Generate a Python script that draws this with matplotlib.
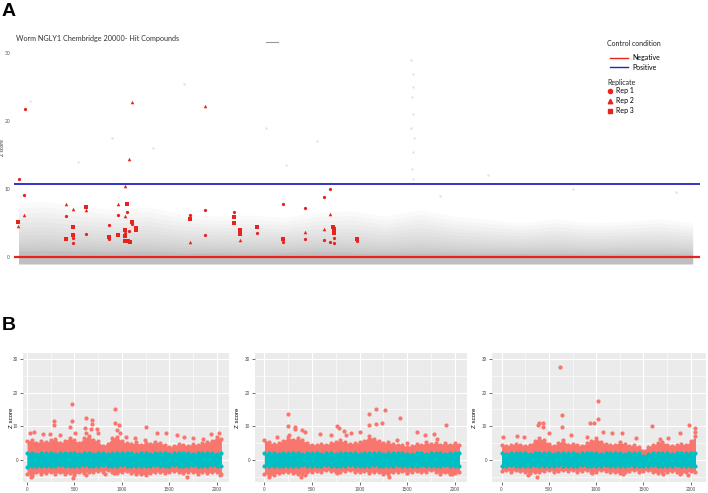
import matplotlib
matplotlib.use('Agg')
import matplotlib.pyplot as plt
from matplotlib.lines import Line2D
import numpy as np

W, H = 708, 493

# ---------------- panel A data (compound index, Z score) ----------------
rep1_x = [264, 440, 410, 29, 29, 29, 1641, 1846, 1846, 2227, 2901, 2901, 3164, 3428, 3370,
          3487, 3575, 5274, 5714, 5714, 6563, 7237, 7999, 7999, 8644, 8644, 9200, 9200,
          9376, 9376, 9493, 9493, 10170]
rep1_y = [11.5, 21.8, 9.1, 4.4, 3.4, 2.4, 6.0, 2.8, 2.1, 3.4, 4.7, 2.6, 6.2, 6.6, 3.5,
          3.8, 4.9, 6.2, 6.9, 3.2, 6.6, 3.5, 7.8, 2.2, 7.2, 2.6, 8.8, 2.5,
          10.0, 2.2, 2.8, 2.1, 2.4]
rep2_x = [410, 234, 1641, 1846, 2227, 3164, 3370, 3370, 3575, 3487, 5274, 5714, 6739,
          8644, 9200, 9376]
rep2_y = [6.2, 4.6, 7.8, 7.1, 6.9, 7.8, 6.0, 10.4, 22.8, 14.4, 2.2, 22.2, 2.5,
          3.7, 4.1, 6.3]
rep3_x = [234, 1641, 1846, 1846, 2227, 2901, 3164, 3428, 3370, 3370, 3370, 3457, 3516,
          3575, 3692, 3692, 5274, 6563, 6563, 6739, 6739, 7237, 7999, 9464, 9493, 9493, 10170]
rep3_y = [5.1, 2.6, 4.4, 3.2, 7.4, 2.9, 3.2, 7.8, 4.0, 3.1, 2.4, 2.4, 2.2,
          5.1, 4.3, 4.0, 5.6, 5.9, 5.0, 4.0, 3.4, 4.4, 2.6, 4.4, 4.1, 3.5, 2.6]

neg_ctrl = 0.0
pos_ctrl = 10.8

# envelope of the grey cloud of all screened compounds
cloud_x = [250, 1000, 2000, 3000, 4000, 5000, 6000, 7000, 8000, 9000, 10000,
           11000, 12000, 13000, 14000, 15000, 16000, 17000, 18000, 19000, 20000]
cloud_outer = [8.0, 8.2, 7.5, 7.0, 7.4, 6.4, 6.0, 6.2, 5.8, 6.6, 6.8,
               6.0, 7.0, 6.0, 5.5, 5.0, 5.6, 5.0, 5.2, 5.6, 5.0]
cloud_base = [0.8, 0.9, 0.8, 0.7, 0.8, 0.6, 0.6, 0.5, 0.6, 0.7, 0.6,
              0.5, 0.6, 0.5, 0.4, 0.5, 0.5, 0.4, 0.5, 0.5, 0.4]
cloud_low = -1.0
faint_x = [11750, 11800, 11820, 11780, 11800, 11760, 11830, 11800, 11780, 11800,
           3000, 5100, 7500, 9000, 14000, 2000, 600, 8100, 16500, 19500, 12600, 4200]
faint_y = [29.0, 27.0, 25.0, 23.5, 21.0, 19.0, 17.5, 15.5, 13.0, 11.5,
           17.5, 25.5, 19.0, 17.0, 12.0, 14.0, 23.0, 13.5, 10.0, 9.5, 9.0, 16.0]

# ---------------- panel B data (three plates) ----------------
env_x = [0, 50, 100, 150, 200, 250, 300, 350, 400, 450, 500, 550, 600, 650, 700, 750,
         800, 850, 900, 950, 1000, 1050, 1100, 1150, 1200, 1250, 1300, 1350, 1400, 1450,
         1500, 1550, 1600, 1650, 1700, 1750, 1800, 1850, 1900, 1950, 2000, 2050]

red1_hi = [5.5, 6.0, 5.0, 5.6, 5.2, 5.8, 6.2, 5.0, 5.6, 6.5, 5.8, 5.0, 6.5, 7.0, 6.0, 5.5,
           4.2, 4.8, 6.5, 6.8, 5.5, 5.0, 4.8, 5.2, 4.6, 5.0, 4.8, 5.4, 5.0, 4.6,
           3.8, 4.2, 4.8, 4.4, 4.2, 4.8, 4.4, 5.0, 5.2, 5.6, 6.8, 6.2]
red1_lo = [-4.2, -4.8, -3.6, -4.0, -3.8, -3.5, -4.0, -3.6, -4.2, -3.8, -4.4, -3.5, -3.8,
           -3.4, -3.6, -3.2, -3.4, -3.0, -3.6, -3.8, -3.5, -3.2, -3.8, -4.0, -4.2, -4.4,
           -3.8, -3.6, -3.4, -3.8, -3.6, -3.2, -3.6, -3.8, -3.4, -3.6, -4.0, -3.4, -3.8,
           -3.6, -3.4, -4.2]
red2_hi = [6.0, 5.2, 4.8, 5.0, 5.6, 6.8, 6.0, 6.4, 5.8, 5.0, 4.6, 4.4, 4.8, 4.6, 5.0, 5.4,
           5.8, 5.2, 4.8, 5.0, 5.2, 5.6, 7.0, 6.2, 5.6, 5.0, 5.2, 4.8, 4.6, 4.4,
           4.0, 4.2, 4.8, 4.4, 5.2, 4.8, 5.0, 4.6, 5.0, 4.6, 5.0, 4.6]
red2_lo = [-4.0, -4.6, -4.4, -3.8, -3.6, -3.4, -3.8, -4.2, -4.0, -3.6, -3.4, -3.2, -3.4,
           -3.0, -3.2, -3.6, -3.4, -3.2, -3.0, -3.4, -3.6, -3.2, -3.8, -3.4, -3.6, -4.0,
           -4.2, -3.6, -3.4, -3.2, -3.8, -3.4, -3.2, -3.6, -3.4, -3.0, -3.4, -4.0, -3.6,
           -4.2, -3.8, -3.4]
red3_hi = [4.6, 4.2, 4.4, 4.8, 4.6, 4.2, 4.6, 5.6, 6.4, 5.8, 4.8, 4.2, 5.0, 5.8, 4.6, 4.8,
           4.4, 4.2, 5.0, 5.6, 6.4, 5.4, 4.8, 4.4, 4.6, 5.2, 4.8, 4.2, 4.4, 4.0,
           2.8, 4.0, 4.4, 5.0, 5.4, 4.6, 4.2, 4.4, 4.8, 4.4, 5.6, 7.0]
red3_lo = [-3.2, -3.0, -3.4, -3.0, -3.2, -3.6, -3.8, -3.4, -3.6, -3.2, -3.0, -3.4, -3.2,
           -3.0, -3.2, -3.0, -3.4, -3.2, -3.0, -3.6, -3.4, -3.0, -3.2, -3.4, -3.6, -3.8,
           -3.4, -3.2, -3.0, -3.4, -3.2, -3.0, -3.6, -3.8, -3.4, -3.6, -3.2, -3.4, -3.8,
           -3.6, -3.2, -3.4]
cyan1_hi = [2.1, 2.0, 1.9, 2.0, 2.1, 2.0, 1.9, 2.0, 2.1, 2.0, 2.0, 1.9, 2.1, 2.0, 1.9, 2.0,
            2.0, 1.9, 2.1, 2.0, 2.0, 2.1, 2.0, 1.9, 2.0, 2.0, 1.9, 2.0, 2.1, 2.0,
            1.9, 2.0, 2.0, 2.1, 2.0, 1.9, 2.0, 2.0, 2.1, 2.0, 1.9, 2.0]
cyan1_lo = [-2.0, -1.8, -1.7, -1.8, -1.7, -1.8, -1.7, -1.6, -1.8, -1.7, -1.8, -1.7, -1.6,
            -1.7, -1.8, -1.7, -1.6, -1.7, -1.8, -1.7, -1.6, -1.7, -1.8, -1.7, -1.7, -1.8,
            -1.7, -1.6, -1.7, -1.8, -1.7, -1.6, -1.7, -1.8, -1.7, -1.6, -1.7, -1.8, -1.7,
            -1.6, -1.7, -1.9]
cyan2_hi = [2.0, 2.1, 2.0, 1.9, 2.0, 2.1, 2.0, 2.0, 1.9, 2.0, 2.2, 2.0, 1.9, 2.0, 2.0, 1.9,
            2.0, 2.1, 2.0, 2.0, 1.9, 2.0, 2.1, 2.0, 2.0, 1.9, 2.0, 2.0, 2.1, 2.0,
            1.9, 1.8, 2.0, 2.0, 1.9, 2.0, 2.1, 2.0, 1.9, 2.0, 2.0, 2.0]
cyan2_lo = [-1.9, -1.8, -1.7, -1.8, -1.7, -1.7, -1.8, -1.7, -1.6, -1.7, -1.7, -1.8, -1.7,
            -1.6, -1.7, -1.7, -1.8, -1.7, -1.6, -1.7, -1.7, -1.8, -1.7, -1.6, -1.7, -1.7,
            -1.8, -1.7, -1.6, -1.7, -1.7, -1.8, -1.7, -1.6, -1.7, -1.7, -1.8, -1.7, -1.6,
            -1.7, -1.7, -1.8]
cyan3_hi = [2.0, 1.9, 2.0, 2.0, 2.1, 2.0, 1.9, 2.0, 2.0, 2.1, 2.0, 1.9, 2.0, 2.0, 2.1, 2.0,
            1.9, 2.0, 2.0, 2.1, 2.0, 1.9, 2.0, 2.0, 2.1, 2.0, 1.9, 2.0, 2.1, 2.0,
            1.2, 1.9, 2.0, 2.0, 2.1, 2.0, 1.9, 2.0, 2.0, 2.1, 2.0, 2.0]
cyan3_lo = [-1.8, -1.7, -1.6, -1.7, -1.7, -1.8, -1.7, -1.6, -1.7, -1.7, -1.8, -1.7, -1.6,
            -1.7, -1.7, -1.8, -1.7, -1.6, -1.7, -1.7, -1.8, -1.7, -1.6, -1.7, -1.7, -1.8,
            -1.7, -1.6, -1.7, -1.7, -1.8, -1.7, -1.6, -1.7, -1.7, -1.8, -1.7, -1.6, -1.7,
            -1.7, -1.8, -1.8]

out1_x = [475, 923, 282, 620, 475, 687, 282, 458, 687, 933, 972, 1254, 743, 609, 28, 74,
          169, 239, 345, 503, 627, 673, 750, 944, 979, 1049, 1137, 1243, 1366, 1461, 1577,
          1658, 1753, 1852, 1944, 2025, 486, 627, 820, 919, 2035, 46, 1683]
out1_y = [16.5, 15.0, 11.6, 12.6, 11.6, 11.8, 10.4, 9.8, 10.6, 11.0, 10.4, 9.8, 9.2, 9.6,
          8.1, 8.4, 7.6, 7.6, 7.4, 7.9, 8.1, 9.2, 7.9, 8.9, 7.9, 6.9, 6.4, 5.9, 7.9, 8.1,
          7.4, 6.9, 6.4, 6.1, 7.6, 7.9, -5.4, -4.5, -4.0, -3.8, -4.3, -5.1, -5.1]
out2_x = [245, 1096, 1176, 1271, 1429, 245, 319, 319, 431, 1096, 1173, 1236, 763, 788, 833,
          910, 1008, 1912, 1604, 1691, 1779, 1814, 1394, 1499, 396, 588, 704, 861, 256, 133,
          389, 431, 1306, 1499, 1971, 46, 763]
out2_y = [13.6, 13.7, 15.0, 14.7, 12.4, 10.1, 9.9, 9.2, 8.4, 10.4, 10.6, 10.9, 10.1, 9.6,
          8.7, 7.9, 8.2, 10.4, 8.2, 7.4, 7.6, 6.2, 5.9, 5.0, 8.9, 7.6, 7.4, 7.4, 7.4, 6.7,
          -5.0, -4.3, -5.0, -3.8, -4.0, -5.0, -3.8]
out3_x = [620, 1024, 1024, 638, 638, 398, 433, 380, 433, 933, 979, 1585, 1986, 1884, 1169,
          1268, 158, 236, 504, 739, 898, 1074, 1426, 1673, 1761, 2042, 2042, 18,
          370, 275, 951, 1884, 1972, 1708, 1285]
out3_y = [27.7, 17.6, 12.2, 13.4, 9.7, 11.1, 11.1, 10.4, 9.9, 10.9, 11.1, 10.1, 10.4, 8.1,
          8.1, 7.9, 7.1, 6.9, 8.1, 7.4, 6.9, 8.4, 6.4, 6.1, 6.4, 9.4, 8.4, 6.9,
          -5.0, -4.3, -3.8, -4.2, -4.5, -4.0, -4.2]

plates = [(red1_hi, red1_lo, cyan1_hi, cyan1_lo, out1_x, out1_y),
          (red2_hi, red2_lo, cyan2_hi, cyan2_lo, out2_x, out2_y),
          (red3_hi, red3_lo, cyan3_hi, cyan3_lo, out3_x, out3_y)]

RED = '#e8231e'
BLUE = '#2323c0'
GG_RED = '#F8766D'
GG_CYAN = '#00BFC4'

fig = plt.figure(figsize=(W / 100, H / 100), dpi=100)


def px_axes(l, t, r, b):
    return fig.add_axes([l / W, 1 - b / H, (r - l) / W, (b - t) / H])


def fx(px):
    return px / W


def fy(px):
    return 1 - px / H


# ---------------- panel A ----------------
axA = px_axes(13, 45, 700, 275)
axA.set_xlim(88, 20217)
axA.set_ylim(-2.65, 31.2)
for s in axA.spines.values():
    s.set_visible(False)
axA.set_xticks([])
axA.set_yticks([0, 10, 20, 30])
axA.tick_params(axis='y', length=0, pad=2, labelsize=3.6, labelcolor='#555555')
for lab in axA.get_yticklabels():
    lab.set_family('Lato')

# grey cloud: stacked translucent layers so it fades upward
base = np.array(cloud_base)
outer = np.array(cloud_outer)
n_layers = 14
for k in range(1, n_layers + 1):
    t = (k / n_layers) ** 1.6
    axA.fill_between(cloud_x, cloud_low, base + (outer - base) * t,
                     color='#8c8c8c', alpha=0.045, lw=0)
axA.fill_between(cloud_x, cloud_low, base, color='#b4b4b4', alpha=0.35, lw=0)
axA.scatter(faint_x, faint_y, s=3, color='#e3e3e3', lw=0)

axA.hlines(neg_ctrl, 117, 20217, color=RED, lw=1.6, zorder=3)
axA.hlines(pos_ctrl, 117, 20217, color=BLUE, lw=1.3, zorder=3)

axA.scatter(rep1_x, rep1_y, s=5.5, marker='o', color=RED, lw=0, zorder=4)
axA.scatter(rep2_x, rep2_y, s=6.5, marker='^', color=RED, lw=0, zorder=4)
axA.scatter(rep3_x, rep3_y, s=5, marker='s', color=RED, lw=0, zorder=4)

axA.set_ylabel('Z score', fontsize=3.8, family='Lato', color='#333333')
axA.yaxis.set_label_coords(-0.0116, 0.552)

fig.text(fx(16), fy(38), 'Worm NGLY1 Chembridge 20000- Hit Compounds',
         fontsize=5.2, family='Lato', color='#333333', va='center')
fig.add_artist(Line2D([fx(266), fx(278)], [fy(42), fy(42)], color='#999999', lw=0.8))

# legends
fig.text(fx(607), fy(44), 'Control condition', fontsize=5.0, family='Lato',
         color='#222222', va='center')
fig.text(fx(607), fy(82), 'Replicate', fontsize=5.0, family='Lato',
         color='#222222', va='center')
ctrl_handles = [Line2D([], [], color=RED, lw=1.0), Line2D([], [], color=BLUE, lw=1.0)]
fig.legend(ctrl_handles, ['Negative', 'Positive'], loc='upper left',
           bbox_to_anchor=(fx(610), fy(54.3)), frameon=False,
           prop={'family': 'Lato', 'size': 5.0},
           handlelength=2.6, handletextpad=0.6, labelspacing=0.32,
           borderaxespad=0, borderpad=0)
rep_handles = [Line2D([], [], ls='', marker='o', ms=3.0, color=RED),
               Line2D([], [], ls='', marker='^', ms=3.2, color=RED),
               Line2D([], [], ls='', marker='s', ms=2.8, color=RED)]
fig.legend(rep_handles, ['Rep 1', 'Rep 2', 'Rep 3'], loc='upper left',
           bbox_to_anchor=(fx(607), fy(87.3)), frameon=False,
           prop={'family': 'Lato', 'size': 5.0},
           handlelength=0.8, handletextpad=0.45, labelspacing=0.42,
           borderaxespad=0, borderpad=0)

fig.text(fx(2), fy(12), 'A', fontsize=14, fontweight='bold',
         family='Liberation Sans', va='center')
fig.text(fx(2), fy(326), 'B', fontsize=14, fontweight='bold',
         family='Liberation Sans', va='center')

# ---------------- panel B ----------------
panel_px = [(23, 229, (-42, 2130), -0.044), (255, 467, (-98, 2129), -0.071),
            (492, 706, (-101, 2161), -0.07)]
for (l, r, xl, labx), (rhi, rlo, chi, clo, ox, oy) in zip(panel_px, plates):
    ax = px_axes(l, 353, r, 482)
    ax.set_facecolor('#ebebeb')
    ax.set_xlim(*xl)
    ax.set_ylim(-6.5, 31.7)
    for s in ax.spines.values():
        s.set_visible(False)
    ax.set_xticks([0, 500, 1000, 1500, 2000])
    ax.set_xticks([250, 750, 1250, 1750], minor=True)
    ax.set_yticks([0, 10, 20, 30])
    ax.set_yticks([-5, 5, 15, 25], minor=True)
    ax.grid(which='major', color='white', lw=0.8)
    ax.grid(which='minor', color='white', lw=0.4)
    ax.set_axisbelow(True)
    ax.tick_params(which='major', length=2, width=0.5, color='#333333', labelsize=3.4,
                   labelcolor='#4d4d4d', pad=1.5)
    ax.tick_params(which='minor', length=0)
    for lab in ax.get_xticklabels() + ax.get_yticklabels():
        lab.set_family('Liberation Sans')

    ax.fill_between(env_x, rlo, rhi, color=GG_RED, lw=0, zorder=2)
    ax.scatter(env_x, rhi, s=9, color=GG_RED, lw=0, zorder=2)
    ax.scatter(env_x, rlo, s=9, color=GG_RED, lw=0, zorder=2)
    ax.scatter(ox, oy, s=9, color=GG_RED, lw=0, zorder=2)
    ax.fill_between(env_x, clo, chi, color=GG_CYAN, lw=0, zorder=3)
    ax.scatter(env_x, chi, s=9, color=GG_CYAN, lw=0, zorder=3)
    ax.scatter(env_x, clo, s=9, color=GG_CYAN, lw=0, zorder=3)

    ax.set_ylabel('Z score', fontsize=4.4, family='Liberation Sans')
    ax.yaxis.set_label_coords(labx, 0.5)

fig.savefig('out.png', dpi=100)
